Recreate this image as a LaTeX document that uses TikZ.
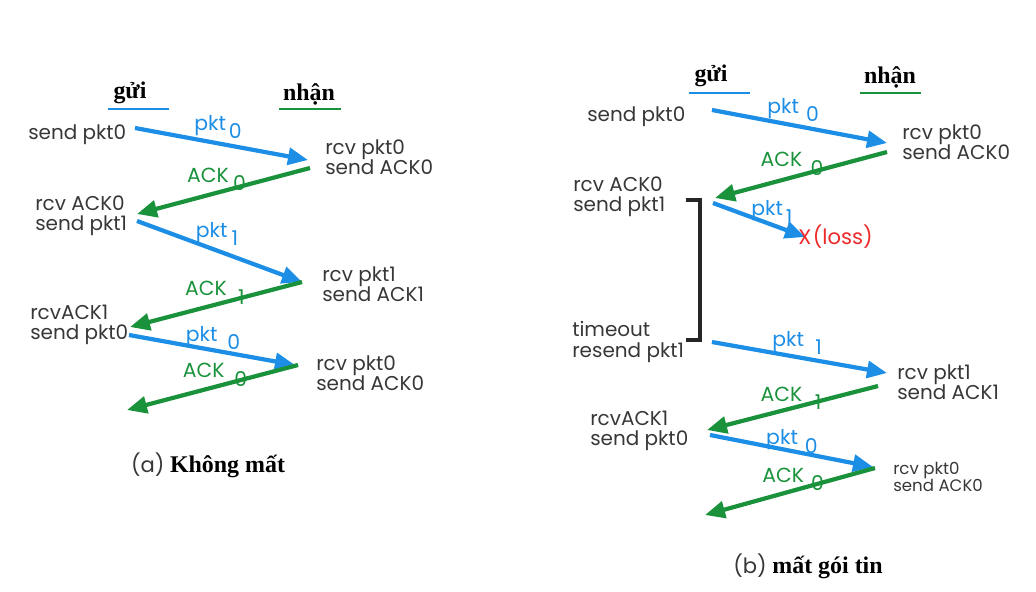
\documentclass[tikz,border=0pt]{standalone}
\usepackage{fontspec}
\setmainfont{Liberation Serif}
\setsansfont{Poppins}
\usetikzlibrary{arrows.meta}
\definecolor{pktblue}{RGB}{28,142,230}
\definecolor{ackgreen}{RGB}{26,146,60}
\definecolor{txtgray}{RGB}{55,55,55}
\definecolor{lossred}{RGB}{236,42,42}
\begin{document}
\begin{tikzpicture}[x=0.025cm, y=-0.025cm,
    side/.style = {font=\sffamily\fontsize{14.2}{14.5}\selectfont, text=txtgray, align=left, anchor=west, inner sep=0pt},
    head/.style = {font=\bfseries\fontsize{17}{17}\selectfont, inner sep=0pt},
    lbl/.style = {font=\sffamily\fontsize{14.5}{14.5}\selectfont, anchor=south, inner sep=0pt},
    pktarrow/.style = {color=pktblue, line width=3pt, -{Triangle[length=5mm,width=4.2mm]}},
    ackarrow/.style = {color=ackgreen, line width=3pt, -{Triangle[length=5mm,width=4.2mm]}}]
  \useasboundingbox (0,0) rectangle (1036,591);

  % (a) khong mat
  \node[head] (sendA) at (130,93) {gửi};
  \node[head] (recvA) at (309,94) {nhận};
  \draw[pktblue, line width=2pt] (108,109) -- (169,109);
  \draw[ackgreen, line width=2pt] (279,109) -- (341,109);

  \node[side] (a1) at (28,135) {send pkt0};
  \node[side] (a2) at (325,157) {rcv pkt0\\send ACK0};
  \node[side] (a3) at (35,216) {rcv ACK0\\send pkt1};
  \node[side] (a4) at (322,284) {rcv pkt1\\send ACK1};
  \node[side] (a5) at (30,325) {rcvACK1\\send pkt0};
  \node[side] (a6) at (316,373) {rcv pkt0\\send ACK0};

  \coordinate (as1) at (135,128);  \coordinate (ar1) at (308,160);
  \coordinate (ar2) at (310,168);  \coordinate (as2) at (137,214);
  \coordinate (as3) at (137,221);  \coordinate (ar3) at (302,282);
  \coordinate (ar4) at (302,282);  \coordinate (as4) at (130,327);
  \coordinate (as5) at (129,335);  \coordinate (ar5) at (295,365);
  \coordinate (ar6) at (298,365);  \coordinate (as6) at (127,410);

  \draw[pktarrow] (as1) -- node[lbl, pos=0.48, yshift=2pt] {pkt\hspace{2pt}\raisebox{-6pt}{0}} (ar1);
  \draw[ackarrow] (ar2) -- node[lbl, pos=0.54] {ACK\hspace{3pt}\raisebox{-6pt}{0}} (as2);
  \draw[pktarrow] (as3) -- node[lbl, pos=0.485, yshift=2pt] {pkt\hspace{3pt}\raisebox{-6pt}{1}} (ar3);
  \draw[ackarrow] (ar4) -- node[lbl, pos=0.506, yshift=-1pt] {ACK\hspace{8pt}\raisebox{-6pt}{1}} (as4);
  \draw[pktarrow] (as5) -- node[lbl, pos=0.506, yshift=-1pt] {pkt\hspace{7pt}\raisebox{-6pt}{0}} (ar5);
  \draw[ackarrow] (ar6) -- node[lbl, pos=0.485, yshift=-1pt] {ACK\hspace{7pt}\raisebox{-6pt}{0}} (as6);

  \node[inner sep=0pt] (capA) at (208,465) {{\sffamily\fontsize{15}{15}\selectfont\color{txtgray}(a)}\hspace{4pt}{\bfseries\fontsize{17}{17}\selectfont Không mất}};

  % (b) mat goi tin
  \node[head] (sendB) at (711,76) {gửi};
  \node[head] (recvB) at (890,77) {nhận};
  \draw[pktblue, line width=2pt] (689,93) -- (750,93);
  \draw[ackgreen, line width=2pt] (860,93) -- (921,93);

  \node[side] (b1) at (587,117) {send pkt0};
  \node[side] (b2) at (902,142) {rcv pkt0\\send ACK0};
  \node[side] (b3) at (573,197) {rcv ACK0\\send pkt1};
  \node[side] (b4) at (572,342) {timeout\\resend pkt1};
  \node[side] (b5) at (897,382) {rcv pkt1\\send ACK1};
  \node[side] (b6) at (590,431) {rcvACK1\\send pkt0};
  \node[side, font=\sffamily\fontsize{11.8}{12.5}\selectfont] (b7) at (893,477) {rcv pkt0\\send ACK0};

  \coordinate (bs1) at (712,110);  \coordinate (br1) at (887,143);
  \coordinate (br2) at (887,152);  \coordinate (bs2) at (715,198);
  \coordinate (bs3) at (713,203);  \coordinate (bx3) at (805,237);
  \coordinate (bs4) at (712,342);  \coordinate (br4) at (887,373);
  \coordinate (br5) at (878,386);  \coordinate (bs5) at (707,430);
  \coordinate (bs6) at (710,435);  \coordinate (br6) at (873,467);
  \coordinate (br7) at (875,468);  \coordinate (bs7) at (705,515);

  \draw[pktarrow] (bs1) -- node[lbl, pos=0.463, yshift=1pt] {pkt\hspace{5pt}\raisebox{-6pt}{0}} (br1);
  \draw[ackarrow] (br2) -- node[lbl, pos=0.552] {ACK\hspace{6pt}\raisebox{-6pt}{0}} (bs2);
  \draw[pktarrow] (bs3) -- node[lbl, pos=0.64, yshift=-1pt] {pkt\hspace{2pt}\raisebox{-6pt}{1}} (bx3);
  \draw[pktarrow] (bs4) -- node[lbl, pos=0.486] {pkt\hspace{8pt}\raisebox{-6pt}{1}} (br4);
  \draw[ackarrow] (br5) -- node[lbl, pos=0.509, yshift=-2.5pt] {ACK\hspace{9pt}\raisebox{-6pt}{1}} (bs5);
  \draw[pktarrow] (bs6) -- node[lbl, pos=0.503, yshift=-3pt] {pkt\hspace{5pt}\raisebox{-6pt}{0}} (br6);
  \draw[ackarrow] (br7) -- node[lbl, pos=0.482, yshift=-1.5pt] {ACK\hspace{5pt}\raisebox{-6pt}{0}} (bs7);

  \node[anchor=west, inner sep=0pt, text=lossred, font=\sffamily\fontsize{15}{15}\selectfont] (loss) at (798,237) {X\hspace{1pt}(loss)};

  % timeout bracket
  \draw[line width=2.2pt, black!85] (686,200) -- (700,200) -- (700,340) -- (686,340);

  \node[inner sep=0pt] (capB) at (808,566) {{\sffamily\fontsize{15}{15}\selectfont\color{txtgray}(b)}\hspace{4pt}{\bfseries\fontsize{17}{17}\selectfont mất gói tin}};
\end{tikzpicture}
\end{document}
